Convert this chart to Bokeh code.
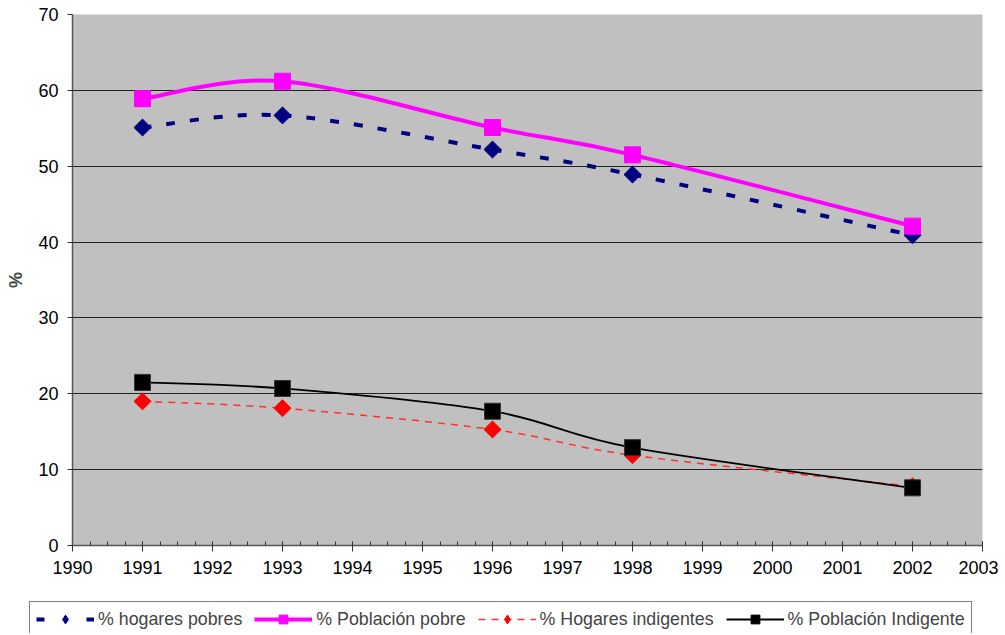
from bokeh.plotting import figure
from bokeh.models import Range1d, FixedTicker, Legend, LegendItem, ColumnDataSource
from bokeh.layouts import column
from bokeh.embed import file_html
from bokeh.resources import INLINE
import math

years = [1991, 1993, 1996, 1998, 2002]
hogares_pobres = [55.1, 56.7, 52.2, 48.9, 40.9]
poblacion_pobre = [58.9, 61.2, 55.1, 51.5, 42.1]
hogares_indigentes = [19.0, 18.1, 15.3, 11.9, 7.8]
poblacion_indigente = [21.5, 20.7, 17.7, 12.9, 7.6]
x_ticks = list(range(1990, 2004))
y_ticks = [0, 10, 20, 30, 40, 50, 60, 70]

labels = ["% hogares pobres", "% Población pobre", "% Hogares indigentes", "% Población Indigente"]

NAVY = "#000080"
MAGENTA = "#FF00FF"
RED = "#FF0000"
RED_LINE = "#FF3030"
FONT = "Liberation Sans"


def smooth_source(xs, ys):
    # Bezier control points (Excel-like smoothing) derived from the data
    n = len(xs)
    d = dict(x0=[], y0=[], x1=[], y1=[], cx0=[], cy0=[], cx1=[], cy1=[])
    for i in range(n - 1):
        pm = max(i - 1, 0)
        pp = min(i + 2, n - 1)
        d["x0"].append(xs[i]); d["y0"].append(ys[i])
        d["x1"].append(xs[i + 1]); d["y1"].append(ys[i + 1])
        d["cx0"].append(xs[i] + (xs[i + 1] - xs[pm]) / 6.0)
        d["cy0"].append(ys[i] + (ys[i + 1] - ys[pm]) / 6.0)
        d["cx1"].append(xs[i + 1] - (xs[pp] - xs[i]) / 6.0)
        d["cy1"].append(ys[i + 1] - (ys[pp] - ys[i]) / 6.0)
    return ColumnDataSource(d)


p = figure(width=998, height=590, output_backend="svg", toolbar_location=None,
           x_range=Range1d(1990, 2003), y_range=Range1d(0, 70),
           min_border_left=72, min_border_right=16, min_border_top=14, min_border_bottom=45,
           border_fill_color="white")
p.background_fill_color = "#C0C0C0"
p.outline_line_color = None

p.xaxis.ticker = FixedTicker(ticks=x_ticks, minor_ticks=[1990 + k * 0.25 for k in range(53)])
p.yaxis.ticker = FixedTicker(ticks=y_ticks, minor_ticks=[])
for ax in (p.xaxis, p.yaxis):
    ax.major_label_text_font = FONT
    ax.major_label_text_font_size = "18px"
    ax.major_label_text_color = "black"
    ax.axis_line_color = "#555555"
    ax.axis_line_width = 1.5
    ax.major_tick_line_color = "#333333"
    ax.minor_tick_line_color = "#333333"
p.xaxis.major_tick_in = 4
p.xaxis.major_tick_out = 6
p.xaxis.minor_tick_in = 4
p.xaxis.minor_tick_out = 0
p.xaxis.major_label_standoff = 9
p.yaxis.major_tick_in = 0
p.yaxis.major_tick_out = 5
p.yaxis.major_label_standoff = 9
p.yaxis.axis_label = "%"
p.yaxis.axis_label_text_font = FONT
p.yaxis.axis_label_text_font_style = "bold"
p.yaxis.axis_label_text_font_size = "18px"
p.yaxis.axis_label_standoff = 9

p.xgrid.visible = False
p.ygrid.ticker = FixedTicker(ticks=[10, 20, 30, 40, 50, 60])
p.ygrid.grid_line_color = "#222222"
p.ygrid.grid_line_width = 1

# series 1: hogares pobres
p.bezier("x0", "y0", "x1", "y1", "cx0", "cy0", "cx1", "cy1",
         source=smooth_source(years, hogares_pobres),
         line_color=NAVY, line_width=4, line_dash="9 15")
p.scatter(years, hogares_pobres, marker="square", angle=math.pi / 4, size=12,
          fill_color=NAVY, line_color=NAVY)
# series 2: poblacion pobre
p.bezier("x0", "y0", "x1", "y1", "cx0", "cy0", "cx1", "cy1",
         source=smooth_source(years, poblacion_pobre),
         line_color=MAGENTA, line_width=4)
p.scatter(years, poblacion_pobre, marker="square", size=16,
          fill_color=MAGENTA, line_color=MAGENTA)
# series 3: hogares indigentes
p.bezier("x0", "y0", "x1", "y1", "cx0", "cy0", "cx1", "cy1",
         source=smooth_source(years, hogares_indigentes),
         line_color=RED_LINE, line_width=1.5, line_dash="7 6")
p.scatter(years, hogares_indigentes, marker="square", angle=math.pi / 4, size=12,
          fill_color=RED, line_color=RED)
# series 4: poblacion indigente
p.bezier("x0", "y0", "x1", "y1", "cx0", "cy0", "cx1", "cy1",
         source=smooth_source(years, poblacion_indigente),
         line_color="black", line_width=1.8)
p.scatter(years, poblacion_indigente, marker="square", size=16,
          fill_color="black", line_color="#333333")

# legend strip (its renderers lie outside its ranges, so only the legend shows)
q = figure(width=998, height=43, output_backend="svg", toolbar_location=None,
           x_range=Range1d(0, 1), y_range=Range1d(0, 1),
           x_axis_location=None, y_axis_location=None,
           min_border_left=0, min_border_right=0, min_border_top=0, min_border_bottom=0,
           border_fill_color="white", background_fill_color="white")
q.outline_line_color = None
q.xgrid.visible = False
q.ygrid.visible = False

a1 = q.line(years, hogares_pobres, line_color=NAVY, line_width=4, line_dash="8 42")
b1 = q.scatter(years, hogares_pobres, marker="diamond", size=14, fill_color=NAVY, line_color=NAVY)
a2 = q.line(years, poblacion_pobre, line_color=MAGENTA, line_width=4)
b2 = q.scatter(years, poblacion_pobre, marker="square", size=10, fill_color=MAGENTA, line_color=MAGENTA)
a3 = q.line(years, hogares_indigentes, line_color=RED_LINE, line_width=1.5, line_dash="7 6")
b3 = q.scatter(years, hogares_indigentes, marker="diamond", size=14, fill_color=RED, line_color=RED)
a4 = q.line(years, poblacion_indigente, line_color="black", line_width=1.8)
b4 = q.scatter(years, poblacion_indigente, marker="square", size=10, fill_color="black", line_color="black")

legend = Legend(items=[LegendItem(label=labels[0], renderers=[a1, b1]),
                       LegendItem(label=labels[1], renderers=[a2, b2]),
                       LegendItem(label=labels[2], renderers=[a3, b3]),
                       LegendItem(label=labels[3], renderers=[a4, b4])],
                orientation="horizontal", location=(29, -4),
                label_text_font=FONT, label_text_font_size="17.8px",
                glyph_width=58, glyph_height=22, label_height=22, label_standoff=4,
                spacing=12, padding=6, margin=0,
                border_line_color="black", border_line_width=1,
                background_fill_color="white", background_fill_alpha=1)
q.add_layout(legend, "center")

open("out.html", "w").write(file_html(column(p, column(q)), INLINE))
